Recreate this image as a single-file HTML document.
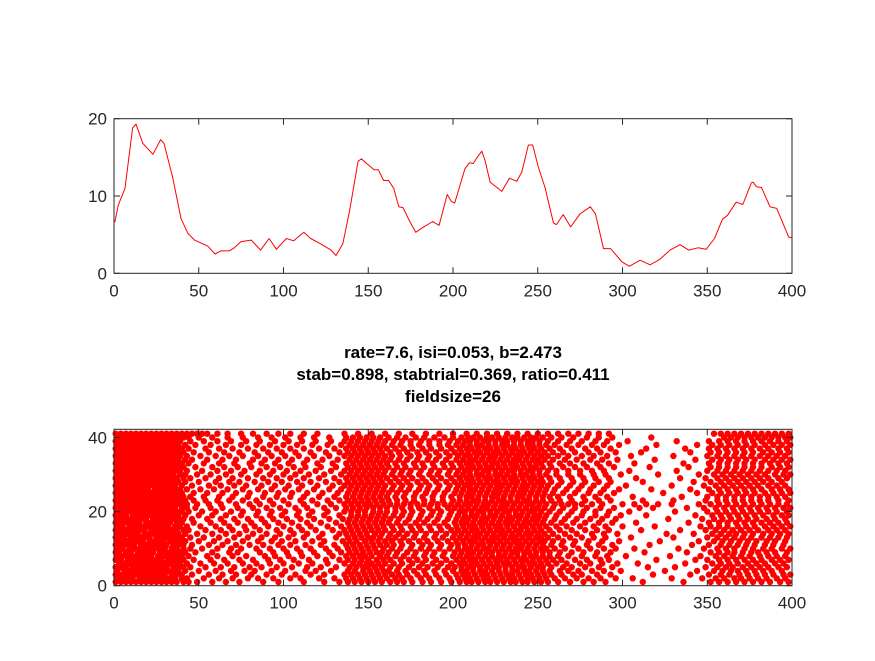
<!DOCTYPE html>
<html><head><meta charset="utf-8"><style>
html,body{margin:0;padding:0;background:#fff;}
svg text{font-family:"Liberation Sans",Arial,sans-serif;}
</style></head><body>
<svg id="fig" width="875" height="656" viewBox="0 0 875 656" xmlns="http://www.w3.org/2000/svg">
<rect width="875" height="656" fill="#fff"/>
<g id="topPlot"></g>
<g id="botPlot"></g>
<g font-weight="bold" font-size="17" text-anchor="middle" fill="#000">
<text x="453" y="358">rate=7.6, isi=0.053, b=2.473</text>
<text x="453" y="380">stab=0.898, stabtrial=0.369, ratio=0.411</text>
<text x="453" y="402">fieldsize=26</text>
</g>
</svg>
<script>
const rateX=[0,0.6,2.5,6.5,11,13,17,23,27.5,29.5,34.5,39.5,43.5,47.5,55.4,59.6,63,68,71,75,81,86.5,91.5,95.8,101.7,106,112,116,122,128,131,135,139,144,146,149,153.5,156,159,162,165,168,170.5,174.5,178,182,188,191.8,196.6,199,201,207,209.6,212,214,217,218.9,221.9,224.8,228.8,233.3,237.6,240.6,244.5,247,250.4,254.3,259.3,261,265,269.4,275,281,284,288.8,293,299.5,304,310.4,316.3,322,328,334,339,344.5,349.4,354.3,359,362,367,371,376,377,379,382,387,391,395,398,400];
const rateY=[6.6,6.7,8.8,11,18.8,19.3,16.8,15.4,17.3,16.8,12.5,7.1,5.2,4.3,3.5,2.5,2.9,2.9,3.3,4.1,4.3,3.0,4.5,3.1,4.5,4.2,5.3,4.5,3.8,3.0,2.3,3.8,8.1,14.5,14.8,14.2,13.4,13.4,12.0,12.0,11,8.6,8.5,6.7,5.3,5.9,6.7,6.2,10.2,9.3,9.1,13.5,14.3,14.2,14.9,15.8,14.6,11.8,11.3,10.6,12.3,11.9,13.1,16.6,16.6,13.7,11.1,6.5,6.3,7.6,6.0,7.7,8.6,7.7,3.2,3.2,1.5,0.9,1.7,1.1,1.8,3.0,3.7,3.0,3.3,3.1,4.5,7.0,7.5,9.2,8.9,11.7,11.8,11.2,11.1,8.6,8.4,6.3,4.7,4.6];
const topYTicks=[0,10,20];
const xTicks=[0,50,100,150,200,250,300,350,400];
const botYTicks=[0,20,40];
const trialSpikes=[
"1 4 7 10 13 16 19 22 25 28 31 34 37 41 44 49 58 66 74 88 97 112 124 133 138 142 146 150 154 158 163 167 171 176 182 187 193 199 204 208 211 215 219 222 226 230 234 237 241 244 248 252 256 262 269 277 283 290 312 336 352 357 362 367 372 377 382 387 393 398",
"2 5 8 11 15 18 21 24 27 30 33 36 40 43 53 62 70 79 85 94 104 110 121 130 137 141 145 149 153 157 161 166 170 175 181 186 192 198 203 207 210 214 218 221 225 229 233 236 240 244 247 251 255 260 266 273 280 287 296 306 329 347 355 360 366 370 375 380 385 391 396",
"1 3 6 9 12 15 18 21 24 27 30 34 37 40 46 56 64 72 81 90 99 107 116 124 136 140 144 148 152 156 160 164 168 173 179 184 190 196 202 206 209 213 217 220 224 228 232 235 239 243 246 250 254 258 264 271 276 285 293 318 340 351 358 363 369 374 379 384 389 395 399",
"2 6 9 12 14 17 20 23 26 29 32 35 38 42 50 60 69 77 83 93 101 113 119 128 138 142 147 151 155 159 162 167 172 177 183 189 195 200 205 208 212 216 219 223 227 231 235 238 242 245 249 253 257 263 268 274 282 289 299 325 344 354 359 364 368 373 378 383 388 394",
"1 4 7 11 14 17 20 23 26 29 31 35 38 41 45 54 63 71 80 87 96 105 114 122 131 139 143 147 150 154 158 163 168 174 180 185 191 197 201 205 209 212 216 220 224 227 231 235 239 242 246 250 253 258 265 270 278 286 294 315 331 349 356 361 365 371 376 381 386 392 397",
"3 6 9 12 15 18 21 24 27 30 33 36 39 43 51 59 67 76 84 92 100 109 117 126 136 141 145 149 152 156 160 165 170 176 182 188 193 199 204 207 211 214 218 222 226 230 233 237 241 245 248 252 256 261 267 275 281 288 297 309 337 353 358 363 368 374 379 384 390 395",
"1 4 8 11 13 16 19 22 25 28 32 35 38 41 47 57 65 74 82 91 98 106 115 125 133 138 142 146 150 155 159 163 169 174 179 184 190 196 202 206 210 213 217 221 225 228 232 236 240 243 247 251 255 259 264 272 279 287 292 320 343 350 357 362 367 372 377 382 388 393 398",
"2 5 8 10 13 16 19 22 26 29 31 34 37 40 44 55 61 70 78 89 95 103 111 120 129 137 141 145 148 152 157 161 166 171 177 183 188 194 200 204 208 211 215 219 223 227 230 234 238 242 246 249 253 257 262 268 276 284 291 302 328 346 355 360 365 370 375 381 386 391 396",
"1 3 7 10 14 17 20 23 27 30 33 36 39 42 48 58 68 73 86 94 102 110 118 127 134 139 143 147 151 155 158 162 167 173 178 184 189 195 201 205 209 212 216 220 223 227 231 235 238 242 245 249 253 257 263 270 277 285 293 313 338 352 357 362 366 371 376 380 385 390 397",
"2 5 9 12 15 18 21 24 27 30 34 37 41 45 52 61 69 75 84 92 100 108 116 125 132 138 142 146 150 154 159 164 169 175 181 186 192 198 203 207 210 214 218 221 225 229 233 237 240 244 248 252 255 260 266 274 281 289 296 307 333 348 356 361 366 372 377 383 388 394 399",
"1 4 6 9 12 16 19 22 25 28 31 35 38 41 46 56 64 72 80 88 97 104 113 122 130 137 141 145 149 153 157 161 165 170 176 182 187 193 199 203 207 211 215 218 222 226 230 234 238 241 245 249 253 258 264 271 279 286 294 316 341 351 358 363 368 373 378 384 389 395",
"2 5 8 11 14 17 21 24 26 29 33 36 39 42 50 59 67 76 85 93 99 107 117 124 135 139 143 148 152 156 160 164 169 174 180 185 191 197 202 206 210 213 217 221 224 228 232 236 239 243 247 251 254 259 265 272 280 288 298 322 345 354 359 364 369 374 379 385 390 396",
"1 3 6 10 13 16 18 21 25 28 31 34 37 40 45 53 62 71 79 87 95 103 112 121 131 138 142 146 150 153 157 162 166 171 177 183 189 194 200 204 208 212 215 219 223 226 230 234 237 241 245 249 252 256 262 269 276 283 290 305 330 350 356 361 366 371 376 382 387 392 397",
"2 5 8 11 14 18 21 24 27 30 32 35 38 42 49 58 66 74 82 90 98 106 114 123 133 137 141 145 149 154 158 163 168 173 178 184 190 196 201 205 209 213 216 220 224 228 231 235 239 243 246 250 254 259 266 273 282 289 297 326 342 353 358 363 367 372 377 383 388 393 398",
"1 4 7 10 13 15 18 22 25 28 31 34 37 41 44 54 63 70 78 86 96 104 111 119 129 136 140 144 148 152 156 160 165 170 176 181 187 193 199 203 207 211 214 218 222 226 229 233 237 240 244 248 252 257 263 270 278 285 292 311 334 349 355 360 365 370 375 380 386 391 396",
"2 5 9 12 15 18 20 23 26 29 32 36 39 43 51 60 68 77 83 91 100 109 116 126 134 139 143 147 151 155 159 164 169 175 180 186 192 197 202 206 210 213 217 221 225 228 232 236 240 243 247 251 255 261 267 275 283 290 300 319 346 352 357 362 368 373 378 384 389 394 399",
"1 3 6 9 12 15 19 22 25 28 30 33 37 40 47 57 65 73 81 89 97 105 114 122 131 138 142 146 150 154 158 162 167 172 178 183 189 195 201 205 208 212 216 219 223 227 231 234 238 242 245 249 253 258 264 271 278 286 294 308 339 351 357 362 367 372 377 382 387 392 397",
"2 4 7 10 13 16 19 23 26 29 32 35 38 41 46 55 63 71 79 87 94 102 110 118 127 135 139 143 147 151 155 159 163 168 174 180 185 191 197 202 206 209 213 217 220 224 228 232 235 239 243 247 250 254 260 266 273 281 288 296 327 347 354 359 364 369 374 379 385 390 396",
"1 4 7 11 14 17 20 23 26 29 32 35 38 42 50 58 66 75 84 92 99 108 115 124 133 140 144 148 152 156 160 165 170 175 181 187 192 198 203 207 211 214 218 222 225 229 233 237 240 244 248 251 255 261 268 276 284 291 299 314 343 353 358 363 368 373 378 383 389 394 398",
"2 5 8 11 13 16 19 22 25 28 31 34 37 40 44 52 60 69 76 85 93 101 109 117 126 136 140 144 148 153 157 161 166 171 176 182 188 193 199 204 207 211 215 218 222 226 230 233 237 241 245 248 252 257 263 270 277 284 292 304 331 350 356 361 366 371 376 381 386 391 397",
"1 4 6 9 12 15 18 21 24 27 30 33 36 40 43 48 57 64 73 82 90 98 107 114 124 131 137 141 145 149 153 157 161 166 170 175 180 186 191 197 201 205 209 213 217 220 224 228 231 235 239 243 247 250 254 259 265 272 279 287 295 310 318 338 348 355 360 365 370 375 380 385 390 395 399",
"2 5 8 10 13 16 19 22 25 28 31 34 37 40 43 49 56 63 72 80 86 94 103 112 120 128 136 140 144 148 151 155 159 163 167 171 175 179 183 187 191 195 199 203 207 210 214 218 221 225 229 232 236 240 244 247 251 255 260 264 268 272 276 282 288 300 307 314 321 329 345 352 357 362 367 372 377 382 387 392 397",
"1 3 6 9 12 15 18 21 24 27 30 33 36 39 42 47 54 61 68 76 84 92 100 110 117 126 133 138 142 146 150 154 158 162 167 172 177 183 188 194 200 204 208 212 215 219 223 227 230 234 238 242 245 249 253 258 263 270 278 286 293 312 330 349 356 361 366 371 376 381 386 392 398",
"2 5 8 11 14 17 20 23 26 29 32 35 38 41 45 53 62 70 79 88 96 104 112 121 130 137 141 145 149 153 157 161 166 171 177 182 188 194 199 204 208 211 215 219 223 226 230 234 238 241 245 249 253 257 262 269 277 284 291 306 335 350 356 361 366 371 376 381 386 391 396",
"1 4 7 10 13 16 19 22 25 28 31 34 37 40 47 55 64 72 80 89 97 105 114 123 132 138 142 146 150 154 158 162 167 172 178 184 189 195 201 205 209 212 216 220 224 227 231 235 239 242 246 250 254 259 265 272 280 287 295 324 344 353 358 363 368 373 378 384 389 394 399",
"2 5 8 11 14 17 20 24 27 30 33 36 39 43 51 59 67 76 85 93 101 109 118 127 134 139 143 147 151 155 159 164 169 174 180 185 191 197 202 206 210 213 217 221 225 228 232 236 240 243 247 251 255 260 267 274 281 289 298 317 340 351 357 362 367 372 377 382 388 393 398",
"1 3 6 9 12 15 18 21 24 27 30 33 36 40 46 56 63 71 78 87 95 103 111 120 129 136 140 144 148 152 156 160 165 170 175 181 186 192 198 203 207 210 214 218 222 226 229 233 237 241 244 248 252 256 262 269 276 283 291 302 329 348 355 360 365 370 375 380 386 391 396",
"2 5 8 11 14 17 20 23 26 29 32 35 38 42 50 60 68 74 83 91 99 108 116 125 133 138 142 146 150 154 158 163 168 173 179 184 190 196 201 205 209 212 216 220 224 227 231 235 238 242 246 250 253 258 264 271 278 286 293 312 342 352 358 363 368 373 378 383 388 394",
"1 4 7 10 13 16 19 22 25 28 31 34 37 41 45 54 62 70 79 88 96 104 112 121 130 137 141 145 149 153 157 161 166 171 176 182 188 193 199 204 208 211 215 219 222 226 230 234 237 241 245 248 252 257 263 270 277 284 292 308 334 349 356 361 366 371 376 381 386 392 397",
"2 5 8 11 14 17 20 23 26 29 32 35 39 42 49 57 66 75 84 92 100 107 115 124 134 139 143 147 151 155 159 164 169 174 180 186 191 197 202 206 210 214 217 221 225 228 232 236 240 243 247 251 255 261 268 275 283 290 299 321 345 354 359 364 369 374 379 384 390 395 399",
"1 3 6 9 12 15 18 21 24 27 30 33 36 39 43 52 61 69 77 86 94 102 110 119 128 136 140 144 148 152 156 160 165 170 175 181 187 192 198 203 207 210 214 218 221 225 229 233 236 240 244 247 251 256 261 268 275 282 289 304 332 350 356 361 366 371 376 381 386 391 396",
"2 5 8 11 14 17 20 23 26 29 32 35 38 41 48 58 65 73 81 90 98 106 113 122 131 138 142 146 150 154 158 162 167 172 178 183 189 195 200 205 209 212 216 220 223 227 231 235 238 242 246 249 253 258 265 272 279 287 295 316 339 352 357 362 367 372 377 382 388 393 398",
"1 4 7 10 13 16 19 22 25 28 31 34 37 40 44 53 62 71 80 87 95 103 112 120 129 137 141 145 149 153 157 161 166 171 177 182 188 194 199 204 208 211 215 219 223 226 230 234 237 241 245 249 252 257 263 269 277 285 292 307 336 351 357 362 367 372 377 382 387 392 397",
"2 5 8 11 14 17 20 23 26 29 32 35 38 42 46 55 64 72 82 89 97 105 114 123 132 139 143 147 151 155 159 163 168 173 179 185 190 196 202 206 210 213 217 221 224 228 232 236 239 243 247 250 254 259 266 273 281 288 297 319 343 353 358 363 368 373 378 384 389 394 399",
"1 3 6 9 12 15 18 21 24 27 30 33 36 39 43 51 60 68 76 85 93 101 109 118 127 136 140 144 148 152 156 160 164 169 175 180 186 192 198 203 207 210 214 218 222 225 229 233 237 240 244 248 252 256 262 268 276 283 291 305 330 350 356 361 366 371 376 381 386 391 396",
"2 5 8 11 14 17 20 23 26 29 32 35 38 41 47 56 65 74 83 91 99 107 116 125 133 138 142 146 150 154 158 163 168 173 179 184 190 196 201 205 209 213 216 220 224 227 231 235 239 242 246 250 254 259 265 272 280 287 296 311 340 352 357 362 367 372 377 383 388 393 398",
"1 4 7 10 13 16 19 22 25 28 31 34 37 40 44 54 62 70 79 88 96 104 112 121 130 137 141 145 149 153 157 161 166 171 176 182 187 193 199 204 208 211 215 219 222 226 230 234 237 241 245 248 252 257 263 270 278 285 293 314 337 351 356 361 366 371 376 381 386 392 397",
"2 5 8 11 14 17 20 23 26 29 32 35 38 42 48 57 66 75 84 92 100 108 117 126 134 139 143 147 151 155 159 164 169 175 180 186 192 197 202 206 210 214 217 221 225 229 232 236 240 244 247 251 255 260 267 274 282 289 298 320 344 353 358 363 368 373 378 384 389 394 399",
"1 3 6 9 12 15 18 21 24 27 30 33 36 39 45 53 61 69 78 86 95 103 111 119 128 136 140 144 148 152 156 160 165 170 175 181 186 192 198 203 207 210 214 218 221 225 229 232 236 240 244 247 251 256 262 269 276 284 291 303 332 351 357 362 367 372 377 382 387 392 397",
"2 5 8 11 14 17 20 23 26 29 32 35 38 41 44 50 58 67 76 85 93 101 110 118 127 137 141 145 149 153 157 162 167 172 178 183 189 195 200 205 209 212 216 220 223 227 231 235 238 242 246 249 253 258 264 271 279 286 294 317 360 364 368 372 376 380 384 388 392 396 399",
"1 4 7 10 13 16 19 22 25 28 31 34 37 40 43 46 49 52 55 61 67 75 82 90 97 104 112 120 136 144 152 160 168 176 184 192 200 208 214 220 226 232 238 244 250 256 262 268 274 280 286 292 354 358 362 366 370 374 378 382 386 390 394 398"
];
const NS="http://www.w3.org/2000/svg";
function mk(tag,attrs,parent){const e=document.createElementNS(NS,tag);for(const k in attrs)e.setAttribute(k,attrs[k]);parent.appendChild(e);return e;}
const X0=114,X1=792;
function sx(v){return X0+(v/400)*(X1-X0);}
const T0=273.3,T1=118.7;
function syTop(v){return T0-(v/20)*(T0-T1);}
const topG=document.getElementById('topPlot');
let d='';
for(let i=0;i<rateX.length;i++){d+=(i?'L':'M')+sx(rateX[i]).toFixed(1)+' '+syTop(rateY[i]).toFixed(1);}
const line=mk('path',{d:d,fill:'none',stroke:'#ff0000','stroke-width':1,'stroke-linejoin':'round'},topG);


function axesBox(g,ytop,ybot,yticks,yfun,name){
  const b=mk('rect',{x:X0,y:ytop,width:X1-X0,height:ybot-ytop,fill:'none',stroke:'#262626','stroke-width':1},g);
  
  
  xTicks.forEach(t=>{
    const x=sx(t);
    mk('line',{x1:x,x2:x,y1:ybot,y2:ybot-6,stroke:'#262626'},g);
    mk('line',{x1:x,x2:x,y1:ytop,y2:ytop+6,stroke:'#262626'},g);
    const tx=mk('text',{x:x,y:ybot+23,'text-anchor':'middle','font-size':17,fill:'#262626'},g);
    tx.textContent=t;
    
    
  });
  yticks.forEach(t=>{
    const y=yfun(t);
    mk('line',{x1:X0,x2:X0+6,y1:y,y2:y,stroke:'#262626'},g);
    mk('line',{x1:X1,x2:X1-6,y1:y,y2:y,stroke:'#262626'},g);
    const tx=mk('text',{x:X0-7,y:y+6,'text-anchor':'end','font-size':17,fill:'#262626'},g);
    tx.textContent=t;
    
    
  });
}
axesBox(topG,T1,T0,topYTicks,syTop,'rate');
const B0=585.7,B1=429.3;
function syBot(v){return B0-(v/42.2)*(B0-B1);}
const botG=document.getElementById('botPlot');
const dots=mk('g',{fill:'#ff0000'},botG);


trialSpikes.forEach((s,ti)=>{
  const trial=ti+1;
  s.split(' ').forEach(v=>{
    const c=mk('circle',{cx:sx(+v).toFixed(1),cy:syBot(trial).toFixed(1),r:3.2},dots);
    
    
  });
});
axesBox(botG,B1,B0,botYTicks,syBot,'raster');
</script>
</body></html>
